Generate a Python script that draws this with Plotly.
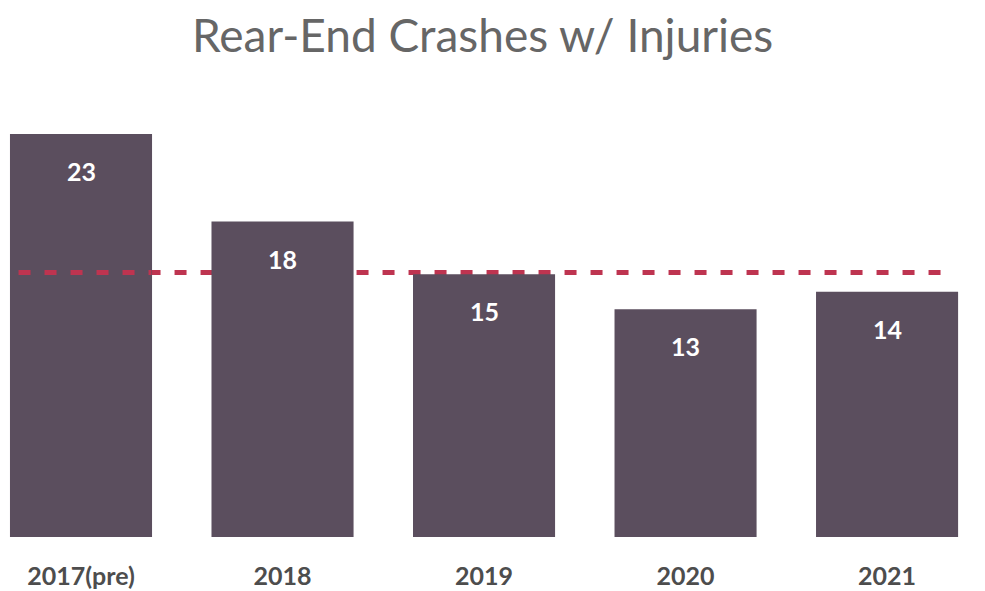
import plotly.graph_objects as go

categories = ["2017(pre)", "2018", "2019", "2020", "2021"]
crashes = [23, 18, 15, 13, 14]
reference_level = 15.1
title_text = "Rear-End Crashes w/ Injuries"

bar_color = "#5b4e5e"
line_color = "#be3450"
font_family = "Lato, Open Sans, sans-serif"

fig = go.Figure()
fig.add_trace(go.Bar(
    x=list(range(len(categories))), y=crashes,
    marker=dict(color=bar_color, line=dict(width=0)),
    hoverinfo="skip", showlegend=False,
))

for i, v in enumerate(crashes):
    fig.add_annotation(x=i, y=v, text="<b>%d</b>" % v, showarrow=False, yshift=-37,
                       font=dict(family=font_family, size=25, color="white"))

# reference line: behind bars overall, visible across first bar
fig.add_shape(type="line", xref="x", yref="y", x0=-0.31, x1=4.32,
              y0=reference_level, y1=reference_level, layer="below",
              line=dict(color=line_color, width=5, dash="12px,14px"))
fig.add_shape(type="line", xref="x", yref="y", x0=-0.31, x1=0.35,
              y0=reference_level, y1=reference_level, layer="above",
              line=dict(color=line_color, width=5, dash="12px,14px"))

fig.update_layout(
    width=985, height=591,
    margin=dict(l=0, r=0, t=100, b=54),
    paper_bgcolor="white", plot_bgcolor="white",
    bargap=0.295,
    title=dict(text=title_text, x=0.49, xanchor="center", y=0.94, yanchor="middle",
               font=dict(family=font_family, size=46, color="#666666")),
    xaxis=dict(range=[-0.402, 4.486], tickmode="array",
               tickvals=list(range(len(categories))),
               ticktext=["<b>%s</b>" % c for c in categories],
               showgrid=False, zeroline=False, showline=False, ticks="",
               ticklabelstandoff=22,
               tickfont=dict(family=font_family, size=25, color="#4d4d4d")),
    yaxis=dict(range=[0, 24.94], visible=False, showgrid=False, zeroline=False),
)

fig.write_html("out.html", config={"displayModeBar": False},
               post_script="document.body.style.margin='0';document.body.style.overflow='hidden';")
